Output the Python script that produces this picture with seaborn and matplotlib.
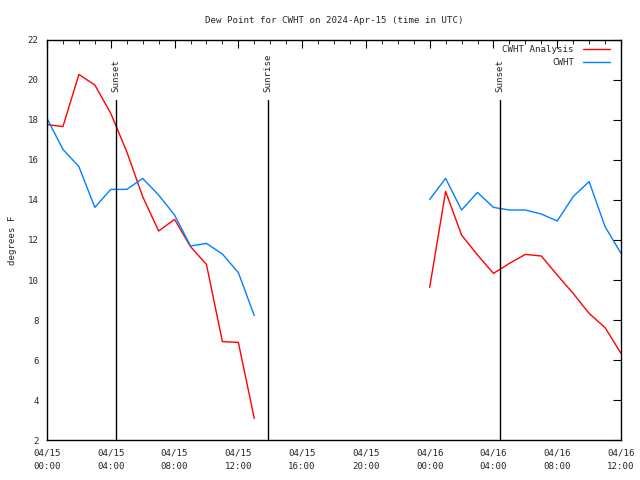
import datetime as dt
import numpy as np
import pandas as pd
import seaborn as sns
import matplotlib
matplotlib.use("Agg")
import matplotlib.pyplot as plt
import matplotlib.dates as mdates

# hourly values, two separate runs of data with a gap overnight
hours_a = list(range(0, 14))
hours_b = list(range(24, 37))

analysis_a = [17.77, 17.67, 20.28, 19.75, 18.33, 16.42, 14.17, 12.45, 13.03, 11.67, 10.78, 6.92, 6.88, 3.08]
analysis_b = [9.63, 14.43, 12.25, 11.25, 10.33, 10.83, 11.28, 11.2, 10.25, 9.33, 8.33, 7.62, 6.33]
obs_a = [18.08, 16.53, 15.67, 13.63, 14.53, 14.53, 15.08, 14.25, 13.25, 11.7, 11.83, 11.3, 10.37, 8.22]
obs_b = [14.03, 15.08, 13.5, 14.38, 13.63, 13.5, 13.5, 13.3, 12.95, 14.17, 14.92, 12.67, 11.33]

series_names = ["CWHT Analysis", "CWHT"]
series_colors = ["#ff0000", "#0080ff"]

sun_events = ["Sunset", "Sunrise", "Sunset"]
sun_times = ["2024-04-15 04:20", "2024-04-15 13:52", "2024-04-16 04:25"]

start = pd.Timestamp("2024-04-15 00:00")

rows = []
for name, segs in [("CWHT Analysis", [(hours_a, analysis_a), (hours_b, analysis_b)]),
                   ("CWHT", [(hours_a, obs_a), (hours_b, obs_b)])]:
    for k, (hrs, vals) in enumerate(segs):
        for h, v in zip(hrs, vals):
            rows.append({"time": start + pd.Timedelta(hours=h), "value": v,
                         "series": name, "seg": k})
df = pd.DataFrame(rows)

sns.set_style("white")
plt.rcParams["font.family"] = ["DejaVu Sans Mono"]
plt.rcParams["font.size"] = 6.6

fig = plt.figure(figsize=(6.4, 4.8), dpi=100)
ax = fig.add_axes([47 / 640, 40 / 480, 574 / 640, 400 / 480])

sns.lineplot(data=df, x="time", y="value", hue="series", units="seg", estimator=None,
             palette=dict(zip(series_names, series_colors)), hue_order=series_names,
             linewidth=1, legend=False, ax=ax)

ax.set_xlim(start, start + pd.Timedelta(hours=36))
ax.set_ylim(2, 22)
ax.set_yticks(np.arange(2, 23, 2))
ax.xaxis.set_major_locator(mdates.HourLocator(byhour=[0, 4, 8, 12, 16, 20]))
ax.xaxis.set_minor_locator(mdates.HourLocator())
ax.xaxis.set_major_formatter(mdates.DateFormatter("%m/%d\n%H:%M"))
ax.tick_params(which="both", direction="in", top=True, right=True, color="black",
               labelsize=6.6, pad=6)
ax.tick_params(which="major", length=6)
ax.tick_params(which="minor", length=3)
for lbl in ax.get_xticklabels():
    lbl.set_linespacing(1.7)
for s in ax.spines.values():
    s.set_color("black")
    s.set_linewidth(1)

# sunrise / sunset markers
for label, t in zip(sun_events, sun_times):
    x = mdates.date2num(pd.Timestamp(t))
    ax.plot([x, x], [2, 19], color="black", linewidth=1)
    ax.text(x, 19.4, label, rotation=90, ha="center", va="bottom", fontsize=6.6)

# gnuplot style key
for i, (name, c) in enumerate(zip(series_names, series_colors)):
    yk = 0.977 - i * 0.033
    ax.text(0.918, yk, name, transform=ax.transAxes, ha="right", va="center", fontsize=6.6)
    ax.plot([0.933, 0.98], [yk, yk], transform=ax.transAxes, color=c, linewidth=1)

ax.set_xlabel("")
ax.set_ylabel("degrees F", fontsize=6.6, labelpad=8)
ax.set_title("Dew Point for CWHT on 2024-Apr-15 (time in UTC)", fontsize=6.6, pad=12)

fig.savefig("out.png", dpi=100)
